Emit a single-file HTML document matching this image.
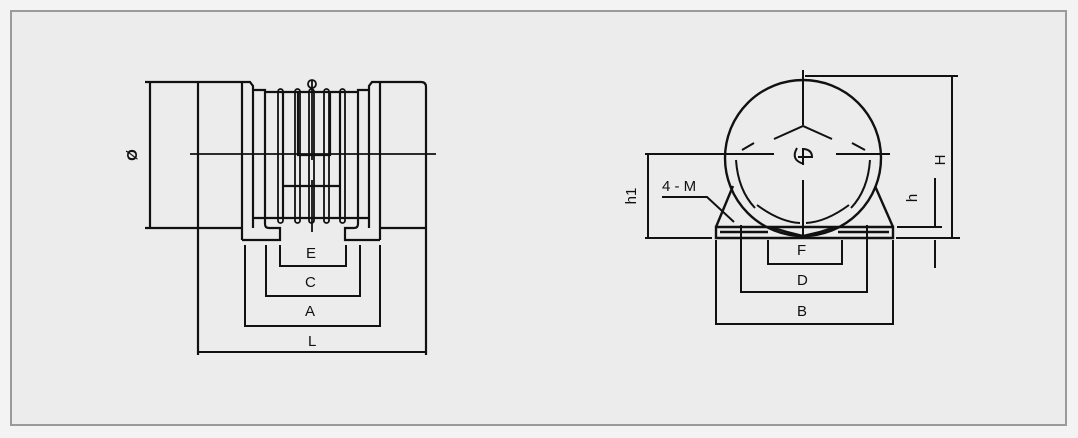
<!DOCTYPE html>
<html><head><meta charset="utf-8"><style>
html,body{margin:0;padding:0;background:#f3f3f3;}
svg{display:block}
text{font-family:"Liberation Sans",sans-serif;fill:#111;font-size:15px}
</style></head><body>
<svg width="1078" height="438" viewBox="0 0 1078 438" xmlns="http://www.w3.org/2000/svg">
<rect x="11" y="11" width="1055" height="414" fill="#ececec" stroke="#9a9a9a" stroke-width="2"/>
<g stroke="#111" fill="none" stroke-width="2.2">
<line x1="145" y1="82" x2="242" y2="82"/>
<line x1="150" y1="82" x2="150" y2="228"/>
<line x1="145" y1="228" x2="242" y2="228"/>
<line x1="198" y1="82" x2="198" y2="355"/>
<line x1="242" y1="82" x2="242" y2="240"/>
<path d="M242 82 H250 L253 86 V228"/>
<path d="M253 90 H265 V218 H253"/>
<path d="M380 82 H421 Q426 82 426 87 V355"/>
<line x1="380" y1="82" x2="380" y2="240"/>
<path d="M380 82 H372 L369 86 V228"/>
<path d="M369 90 H358 V218 H369"/>
<line x1="380" y1="228" x2="426" y2="228"/>
<path d="M242 240 H280 V228 H269 Q265 228 265 224 V218"/>
<path d="M380 240 H345 V228 H354 Q358 228 358 224 V218"/>
<line x1="265" y1="92" x2="358" y2="92"/>
<line x1="265" y1="218" x2="358" y2="218"/>
<line x1="283" y1="92" x2="283" y2="218"/>
<line x1="340" y1="92" x2="340" y2="218"/>
<line x1="283" y1="186" x2="340" y2="186"/>
<path d="M298 92 V155 H330 V92"/>
</g>
<g stroke="#111" fill="none" stroke-width="1.8">
<rect x="278" y="89" width="5" height="134" rx="2.5"/>
<rect x="295" y="89" width="5" height="134" rx="2.5"/>
<rect x="309" y="89" width="5" height="134" rx="2.5"/>
<rect x="324" y="89" width="5" height="134" rx="2.5"/>
<rect x="340" y="89" width="5" height="134" rx="2.5"/>
<line x1="312" y1="80" x2="312" y2="160"/>
<line x1="312" y1="180" x2="312" y2="232"/>
<circle cx="312" cy="84" r="4"/>
<line x1="190" y1="154" x2="436" y2="154"/>
</g>
<g stroke="#111" fill="none" stroke-width="2">
<path d="M280 245 V266 H346 V245"/>
<path d="M266 245 V296 H360 V245"/>
<path d="M245 245 V326 H380 V245"/>
<line x1="198" y1="352" x2="426" y2="352"/>
</g>
<text x="306" y="258">E</text>
<text x="305" y="287">C</text>
<text x="305" y="316">A</text>
<text x="308" y="346">L</text>
<text x="0" y="0" transform="translate(137,155) rotate(-90)" text-anchor="middle" font-weight="bold">Ø</text>

<g stroke="#111" fill="none" stroke-width="2.4">
<circle cx="803" cy="158" r="78"/>
<path d="M716 227 H893 V238 H716 Z"/>
<path d="M733 186 L716 227"/>
<path d="M875 186 L893 227"/>
<path d="M770 227 L787 232 L803 236 L820 232 L836 227"/>
<path d="M720 232 H768 M838 232 H889"/>
</g>
<g stroke="#111" fill="none" stroke-width="2">
<line x1="803" y1="70" x2="803" y2="125"/>
<line x1="803" y1="180" x2="803" y2="236"/>
<line x1="645" y1="154" x2="774" y2="154"/>
<line x1="836" y1="154" x2="890" y2="154"/>
<path d="M774 139 L803 126 L832 139"/>
<path d="M742 150 L754 143 M865 150 L852 143"/>
<path d="M757 205 Q780 222 800 223 M849 205 Q826 222 806 223"/>
<path d="M736 160 Q738 190 755 208 M870 160 Q868 190 851 208"/>
<path d="M797 148 Q790 160 804 164 M803 148 V165 M798 157 H812 Q812 150 804 149"/>
<line x1="645" y1="238" x2="712" y2="238"/>
<line x1="648" y1="154" x2="648" y2="238"/>
<line x1="805" y1="76" x2="958" y2="76"/>
<line x1="952" y1="76" x2="952" y2="238"/>
<line x1="896" y1="238" x2="960" y2="238"/>
<line x1="897" y1="227" x2="942" y2="227"/>
<line x1="935" y1="178" x2="935" y2="227"/>
<line x1="935" y1="240" x2="935" y2="268"/>
<path d="M662 197 H707 L734 222"/>
<path d="M768 240 V264 H842 V240"/>
<path d="M741 225 V292 H867 V225"/>
<path d="M716 240 V324 H893 V240"/>
</g>
<text x="797" y="255">F</text>
<text x="797" y="285">D</text>
<text x="797" y="316">B</text>
<text x="662" y="191" font-size="14">4 - M</text>
<text transform="translate(636,196) rotate(-90)" text-anchor="middle" font-size="15">h1</text>
<text transform="translate(945,160) rotate(-90)" text-anchor="middle">H</text>
<text transform="translate(917,198) rotate(-90)" text-anchor="middle">h</text>
</svg>
</body></html>
